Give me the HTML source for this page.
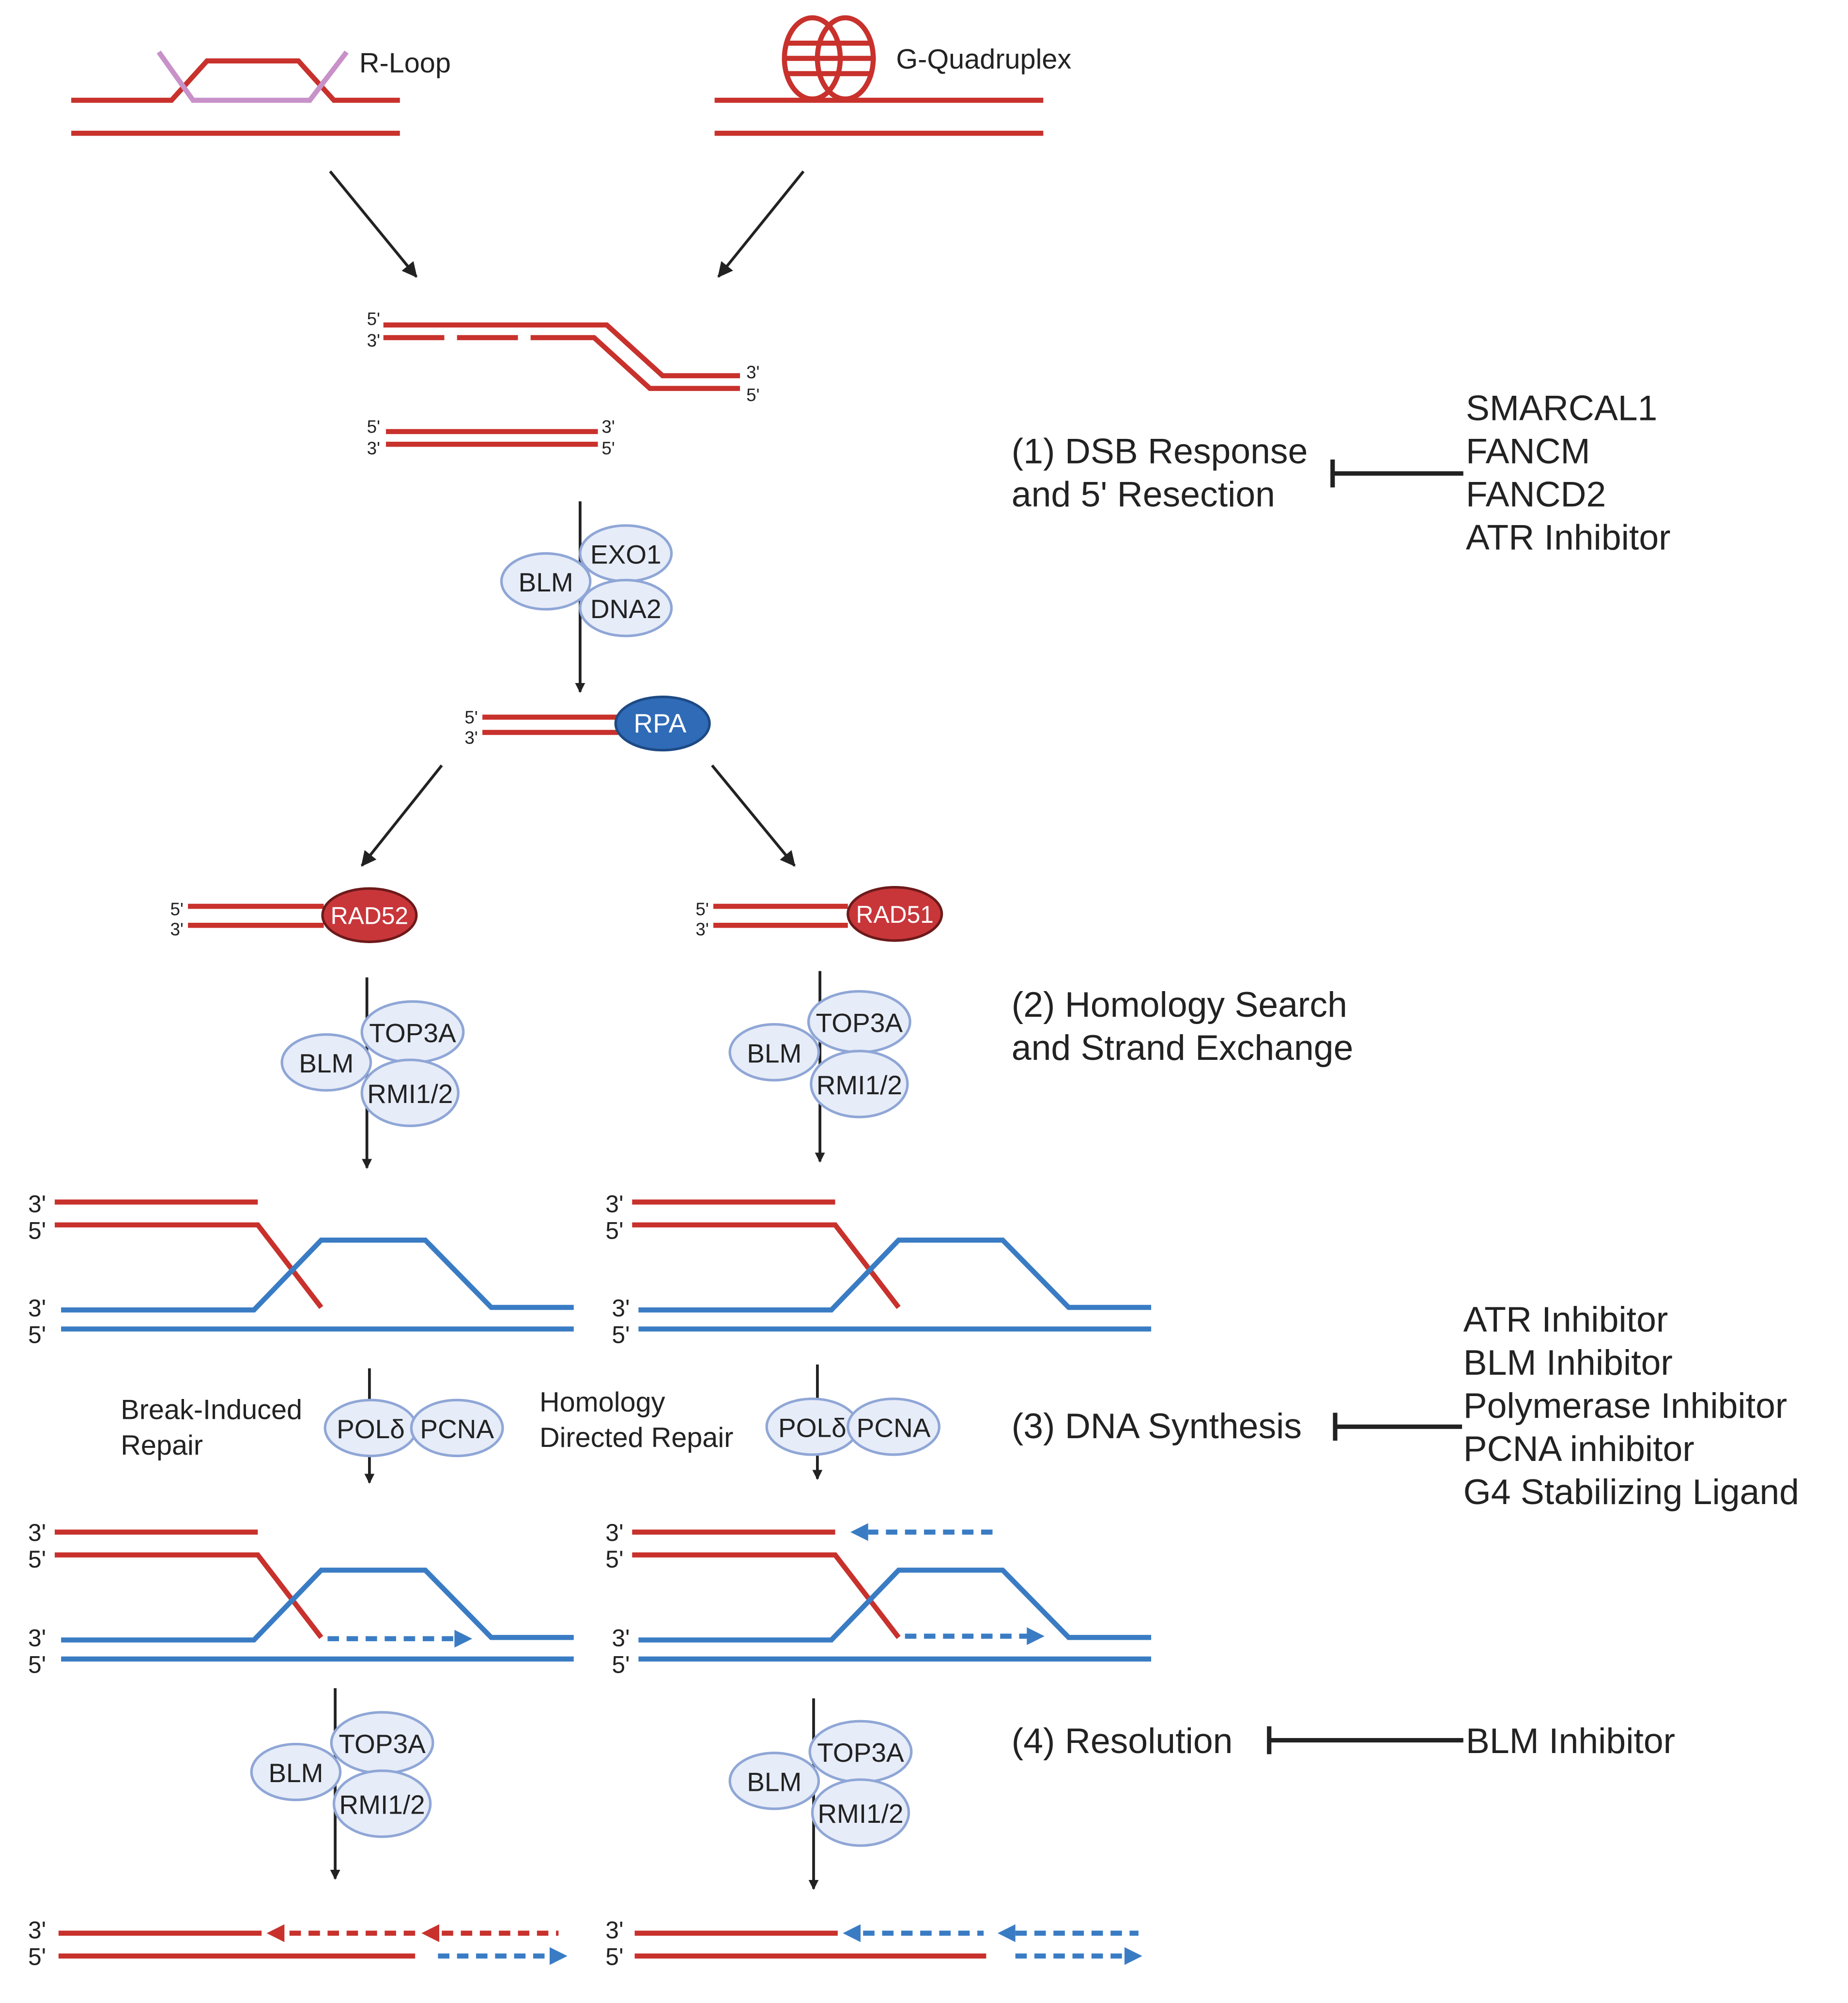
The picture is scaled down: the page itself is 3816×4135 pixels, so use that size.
<!DOCTYPE html>
<html><head><meta charset="utf-8"><style>html,body{margin:0;padding:0;background:#fff}svg{display:block}</style></head>
<body>
<svg width="3816" height="4135" viewBox="0 0 1456 1578" xmlns="http://www.w3.org/2000/svg" font-family="Liberation Sans, sans-serif">
<defs>
<marker id="ak" markerWidth="8" markerHeight="8" refX="7" refY="4" orient="auto" markerUnits="userSpaceOnUse"><path d="M0,0 L8,4 L0,8z" fill="#222"/></marker>
<marker id="ak2" markerWidth="12" markerHeight="12" refX="11" refY="6" orient="auto" markerUnits="userSpaceOnUse"><path d="M0,0 L12,6 L0,12z" fill="#222"/></marker>
</defs>
<g fill="none" stroke-width="4" stroke="#c8312c">
<!-- R-loop -->
<path d="M56,79 H135 L163,48 H235 L263,79 H315"/>
<path d="M56,105 H315"/>
<path d="M125,41 L152,79 H244 L273,41" stroke="#c891c9"/>
<!-- G4 -->
<path d="M563,79 H822 M563,105 H822"/>
<ellipse cx="640" cy="46" rx="22" ry="32"/><ellipse cx="666" cy="46" rx="22" ry="32"/>
<path d="M620,34 H688 M618,46 H690 M620,58 H688"/>
<!-- fork -->
<path d="M302,256 H478 L522,296 H583"/>
<path d="M302,266 H350 M360,266 H408 M418,266 H468 L512,306 H583"/>
<path d="M304,340 H471 M304,350 H471"/>
<path d="M380,565 H490 M380,577 H490"/>
<path d="M148,714 H255 M148,729 H255"/>
<path d="M562,714 H668 M562,729 H668"/>
</g>
<g fill="none" stroke="#222" stroke-width="2.2">
<path d="M260,135 L328,218" marker-end="url(#ak2)"/>
<path d="M633,135 L566,218" marker-end="url(#ak2)"/>
<path d="M348,603 L285,682" marker-end="url(#ak2)"/>
<path d="M561,603 L626,682" marker-end="url(#ak2)"/>
<path d="M457,395 V545" marker-end="url(#ak)"/>
<path d="M289,770 V920" marker-end="url(#ak)"/>
<path d="M646,765 V915" marker-end="url(#ak)"/>
<path d="M291,1078 V1168" marker-end="url(#ak)"/>
<path d="M644,1075 V1165" marker-end="url(#ak)"/>
<path d="M264,1330 V1480" marker-end="url(#ak)"/>
<path d="M641,1338 V1488" marker-end="url(#ak)"/>
</g>
<g fill="none" stroke="#222" stroke-width="3.5">
<path d="M1050,373 H1153 M1050,362 V384"/>
<path d="M1052,1124 H1152 M1052,1113 V1135"/>
<path d="M1000,1371 H1153 M1000,1360 V1382"/>
</g>
<!-- D loops -->
<g fill="none" stroke-width="4">
<g id="d1">
<path d="M43,947 H203" stroke="#c8312c"/>
<path d="M43,965 H203 L253,1030" stroke="#c8312c"/>
<path d="M48,1032 H200 L253,977 H335 L387,1030 H452" stroke="#3a7cc4"/>
<path d="M48,1047 H452" stroke="#3a7cc4"/>
</g>
<use href="#d1" x="455"/>
<use href="#d1" y="260"/>
<use href="#d1" x="455" y="260"/>
<g stroke="#3a7cc4" stroke-dasharray="9,6">
<path d="M258,1291 H362"/><path d="M713,1289 H812"/><path d="M782,1207 H684"/>
<path d="M345,1541 H436"/><path d="M800,1541 H888"/><path d="M680,1523 H775"/><path d="M800,1523 H897"/>
</g>
<g stroke="#c8312c" stroke-dasharray="9,6"><path d="M228,1523 H330"/><path d="M348,1523 H440"/></g>
<path d="M46,1523 H206 M46,1541 H327" stroke="#c8312c"/>
<path d="M500,1523 H660 M500,1541 H777" stroke="#c8312c"/>
</g>
<g stroke="none">
<path d="M372,1291 l-14,-7 v14z" fill="#3a7cc4"/>
<path d="M823,1289 l-14,-7 v14z" fill="#3a7cc4"/>
<path d="M670,1207 l14,-7 v14z" fill="#3a7cc4"/>
<path d="M210,1523 l14,-7 v14z" fill="#c8312c"/>
<path d="M332,1523 l14,-7 v14z" fill="#c8312c"/>
<path d="M447,1541 l-14,-7 v14z" fill="#3a7cc4"/>
<path d="M664,1523 l14,-7 v14z" fill="#3a7cc4"/>
<path d="M786,1523 l14,-7 v14z" fill="#3a7cc4"/>
<path d="M900,1541 l-14,-7 v14z" fill="#3a7cc4"/>
</g>
<!-- proteins -->
<g fill="#e6ecf8" stroke="#8fa6d6" stroke-width="2">
<ellipse cx="430" cy="458" rx="35" ry="22"/><ellipse cx="493" cy="436" rx="36" ry="22"/><ellipse cx="493" cy="479" rx="36" ry="22"/>
<ellipse cx="257" cy="837" rx="35" ry="22"/><ellipse cx="325" cy="813" rx="40" ry="24"/><ellipse cx="323" cy="861" rx="38" ry="26"/>
<ellipse cx="610" cy="829" rx="35" ry="22"/><ellipse cx="677" cy="805" rx="40" ry="24"/><ellipse cx="677" cy="854" rx="38" ry="26"/>
<ellipse cx="292" cy="1125" rx="36" ry="22"/><ellipse cx="360" cy="1125" rx="36" ry="22"/>
<ellipse cx="640" cy="1124" rx="36" ry="22"/><ellipse cx="704" cy="1124" rx="36" ry="22"/>
<ellipse cx="233" cy="1396" rx="35" ry="22"/><ellipse cx="301" cy="1373" rx="40" ry="24"/><ellipse cx="301" cy="1421" rx="38" ry="26"/>
<ellipse cx="610" cy="1403" rx="35" ry="22"/><ellipse cx="678" cy="1380" rx="40" ry="24"/><ellipse cx="678" cy="1428" rx="38" ry="26"/>
</g>
<ellipse cx="522" cy="570" rx="37" ry="21" fill="#2f6bb7" stroke="#1d4a85" stroke-width="2"/>
<ellipse cx="291" cy="721" rx="37" ry="21" fill="#c8363a" stroke="#6d1a1a" stroke-width="2"/>
<ellipse cx="705" cy="720" rx="37" ry="21" fill="#c8363a" stroke="#6d1a1a" stroke-width="2"/>
<g font-size="21" fill="#222" text-anchor="middle">
<text x="430" y="466">BLM</text><text x="493" y="444">EXO1</text><text x="493" y="487">DNA2</text>
<text x="257" y="845">BLM</text><text x="325" y="821">TOP3A</text><text x="323" y="869">RMI1/2</text>
<text x="610" y="837">BLM</text><text x="677" y="813">TOP3A</text><text x="677" y="862">RMI1/2</text>
<text x="292" y="1133">POLδ</text><text x="360" y="1133">PCNA</text>
<text x="640" y="1132">POLδ</text><text x="704" y="1132">PCNA</text>
<text x="233" y="1404">BLM</text><text x="301" y="1381">TOP3A</text><text x="301" y="1429">RMI1/2</text>
<text x="610" y="1411">BLM</text><text x="678" y="1388">TOP3A</text><text x="678" y="1436">RMI1/2</text>
<text x="520" y="577" fill="#fff">RPA</text>
<text x="291" y="728" fill="#fff" font-size="19">RAD52</text>
<text x="705" y="727" fill="#fff" font-size="19">RAD51</text>
</g>
<g font-size="14" fill="#222">
<text x="289" y="256">5'</text><text x="289" y="273">3'</text>
<text x="588" y="298">3'</text><text x="588" y="316">5'</text>
<text x="289" y="341">5'</text><text x="289" y="358">3'</text>
<text x="474" y="341">3'</text><text x="474" y="358">5'</text>
<text x="366" y="570">5'</text><text x="366" y="586">3'</text>
<text x="134" y="721">5'</text><text x="134" y="737">3'</text>
<text x="548" y="721">5'</text><text x="548" y="737">3'</text>
</g>
<g font-size="19" fill="#222">
<text x="22" y="955">3'</text><text x="22" y="976">5'</text><text x="22" y="1037">3'</text><text x="22" y="1058">5'</text>
<text x="477" y="955">3'</text><text x="477" y="976">5'</text><text x="482" y="1037">3'</text><text x="482" y="1058">5'</text>
<text x="22" y="1214">3'</text><text x="22" y="1235">5'</text><text x="22" y="1297">3'</text><text x="22" y="1318">5'</text>
<text x="477" y="1214">3'</text><text x="477" y="1235">5'</text><text x="482" y="1297">3'</text><text x="482" y="1318">5'</text>
<text x="22" y="1527">3'</text><text x="22" y="1548">5'</text>
<text x="477" y="1527">3'</text><text x="477" y="1548">5'</text>
</g>
<g font-size="22" fill="#222">
<text x="283" y="57">R-Loop</text><text x="706" y="54">G-Quadruplex</text>
<text x="95" y="1118">Break-Induced</text><text x="95" y="1146">Repair</text>
<text x="425" y="1112">Homology</text><text x="425" y="1140">Directed Repair</text>
</g>
<g font-size="28" fill="#222">
<text x="797" y="365">(1) DSB Response</text><text x="797" y="399">and 5' Resection</text>
<text x="1155" y="331">SMARCAL1</text><text x="1155" y="365">FANCM</text><text x="1155" y="399">FANCD2</text><text x="1155" y="433">ATR Inhibitor</text>
<text x="797" y="801">(2) Homology Search</text><text x="797" y="835">and Strand Exchange</text>
<text x="797" y="1133">(3) DNA Synthesis</text>
<text x="1153" y="1049">ATR Inhibitor</text><text x="1153" y="1083">BLM Inhibitor</text><text x="1153" y="1117">Polymerase Inhibitor</text><text x="1153" y="1151">PCNA inhibitor</text><text x="1153" y="1185">G4 Stabilizing Ligand</text>
<text x="797" y="1381">(4) Resolution</text><text x="1155" y="1381">BLM Inhibitor</text>
</g>
</svg>
</body></html>
